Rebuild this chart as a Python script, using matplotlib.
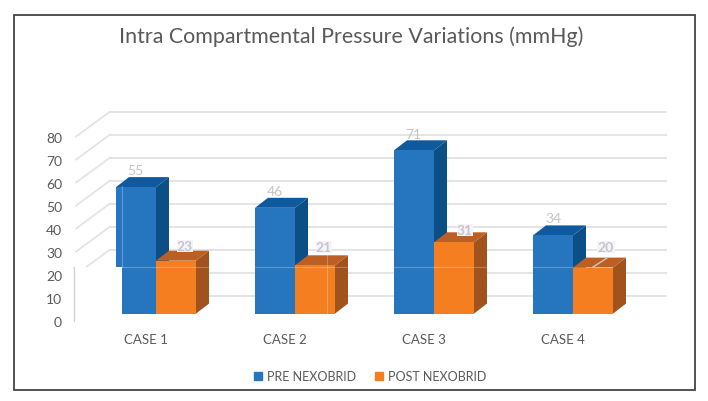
import matplotlib
matplotlib.use("Agg")
import matplotlib.pyplot as plt
from matplotlib.patches import Patch, Polygon, Rectangle

plt.rcParams["font.family"] = ["Lato", "DejaVu Sans"]

# 数据
cases = ["CASE 1", "CASE 2", "CASE 3", "CASE 4"]
pre_values = [55, 46, 71, 34]
post_values = [23, 21, 31, 20]
y_ticks = [0, 10, 20, 30, 40, 50, 60, 70, 80]

TEXT = "#595959"
GRID = "#e2e2e2"
LABEL = "#c4c4cc"

# 画布按像素布置: 1个类别 = 139px, 1个数值单位 = 2.3px
X0, Y0, XS, YS = 156.0, 314.6, 139.0, 2.3


def fx(px):
    return (px - X0) / XS


def fy(py):
    return (Y0 - py) / YS


fig = plt.figure(figsize=(7.08, 4.02), dpi=100)
ax = fig.add_axes([0, 0, 1, 1])
ax.set_xlim(fx(0), fx(708))
ax.set_ylim(fy(402), fy(0))
ax.axis("off")

bar_w = 40 / XS
dx, dy = 13 / XS, 10 / YS      # 柱子的立体偏移
wall_dx, wall_dy = 34 / XS, 25 / YS  # 网格斜线
wall_shift = 18 / YS           # 后墙相对柱底的高度

# 网格线
for v in y_ticks:
    yb = v + wall_shift
    ax.plot([fx(110), fx(667)], [yb, yb], color=GRID, lw=1.3, zorder=1, solid_capstyle="butt")
    ax.plot([fx(110) - wall_dx, fx(110)], [yb - wall_dy, yb], color=GRID, lw=1.2, zorder=1)


def bar3d(x_left, value, front, top, side, z):
    x_right = x_left + bar_w
    ax.add_patch(Polygon([(x_right, 0), (x_right + dx, dy), (x_right + dx, value + dy), (x_right, value)],
                         color=side, lw=0, zorder=z))
    ax.add_patch(Polygon([(x_left, value), (x_left + dx, value + dy), (x_right + dx, value + dy), (x_right, value)],
                         color=top, lw=0, zorder=z))
    ax.bar(x_left, value, width=bar_w, align="edge", color=front, lw=0, zorder=z + 0.1)


for i in range(len(cases)):
    bar3d(i - bar_w, pre_values[i], "#2676bf", "#0f5a9e", "#0b4f86", 2 + i)
    bar3d(i, post_values[i], "#f57e20", "#bd5e22", "#a1531e", 2.5 + i)

# 图片左下方错位的部分
ax.add_patch(Rectangle((fx(68), fy(325)), fx(122) - fx(68), fy(268) - fy(325), color="white", lw=0, zorder=8))
ax.plot([fx(74), fx(74)], [fy(268), fy(322)], color="#d5cde0", lw=1.0, zorder=9)
ax.plot([fx(116), fx(612)], [fy(268), fy(268)], color="white", alpha=0.25, lw=0.8, zorder=9)
ax.plot([fx(122), fx(122)], [fy(187), fy(268)], color="white", alpha=0.25, lw=0.8, zorder=9)
ax.plot([fx(327), fx(327)], [fy(243), fy(314)], color="white", alpha=0.25, lw=0.8, zorder=9)

# 数值标签
pre_label_x = [135, 275, 413, 553]
pre_label_y = [171, 192, 135, 219]
post_label_x = [185, 324, 465, 606]
post_label_y = [247, 248, 231, 248]
for i in range(len(cases)):
    ax.text(fx(pre_label_x[i]), fy(pre_label_y[i]), str(pre_values[i]), color=LABEL, fontsize=10,
            ha="center", va="center", zorder=10)
    ax.text(fx(post_label_x[i]), fy(post_label_y[i]), str(post_values[i]), color=LABEL, fontsize=10,
            ha="center", va="center", zorder=10, fontweight="bold",
            bbox=dict(facecolor="#f7f2f7", edgecolor="none", pad=0.3))
ax.plot([fx(593), fx(607)], [fy(268), fy(259)], color="#c8c8c8", lw=1, zorder=10)

# 坐标轴文字
for v in y_ticks:
    ax.text(fx(62), v - 7 / YS - 0.4, str(v), color=TEXT, fontsize=10, ha="right", va="center", zorder=10)
for i, c in enumerate(cases):
    ax.text(i - 10.5 / XS, fy(340.5), c, color=TEXT, fontsize=9.5, ha="center", va="center", zorder=10)

ax.text(fx(351), fy(36.5), "Intra Compartmental Pressure Variations (mmHg)", color=TEXT, fontsize=15.4,
        ha="center", va="center", zorder=10)

# 外框
ax.add_patch(Rectangle((fx(14.5), fy(390.5)), fx(694.5) - fx(14.5), fy(16) - fy(390.5), fill=False,
                       edgecolor="#444444", lw=1.3, zorder=11))

handles = [Patch(color="#2676bf", label="PRE NEXOBRID"), Patch(color="#f57e20", label="POST NEXOBRID")]
ax.legend(handles=handles, loc="center", bbox_to_anchor=(370 / 708, 1 - 377.5 / 402), ncols=2, frameon=False,
          fontsize=9, labelcolor=TEXT, handlelength=0.65, handleheight=0.65, handletextpad=0.4, columnspacing=1.5)

fig.savefig("out.png", dpi=100)
